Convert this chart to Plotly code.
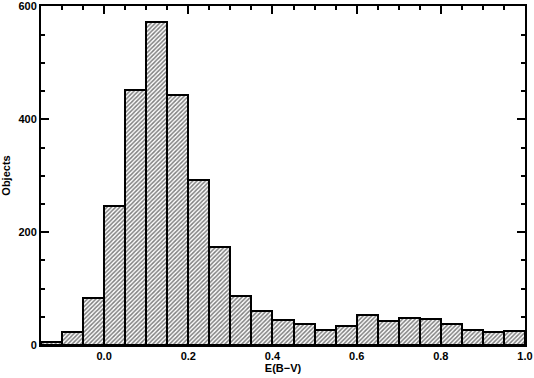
import plotly.graph_objects as go

bin_start = -0.15
bin_width = 0.05
counts = [5, 23, 83, 247, 452, 572, 444, 293, 173, 86, 60, 44, 38, 27, 33,
          54, 43, 47, 46, 38, 27, 23, 24]
x_tick0, x_dtick, x_minor = 0.0, 0.2, 0.05
y_tick0, y_dtick, y_minor = 0, 200, 50
x_range = [-0.15, 1.0]
y_range = [0, 601]

centers = [bin_start + bin_width * (i + 0.5) for i in range(len(counts))]

fig = go.Figure(go.Bar(
    x=centers, y=counts, width=bin_width,
    marker=dict(color="white", line=dict(color="black", width=2),
                pattern=dict(shape="/", fgcolor="black", bgcolor="white",
                             size=3, solidity=0.5, fillmode="overlay")),
    showlegend=False,
))
# invisible trace to activate the mirrored (top/right) axes
fig.add_trace(go.Scatter(x=[x_range[0]], y=[y_range[0]], xaxis="x2", yaxis="y2",
                         mode="markers", marker=dict(opacity=0), showlegend=False,
                         hoverinfo="skip"))

font = dict(family="Liberation Sans, Arial, sans-serif", size=11, color="black", weight="bold")
common = dict(ticks="inside", ticklen=8, tickwidth=2, tickcolor="black",
              showline=True, linecolor="black", linewidth=2,
              showgrid=False, zeroline=False, automargin=False)
xminor = dict(dtick=x_minor, tick0=x_tick0, ticks="inside", ticklen=4, tickwidth=1.5,
              tickcolor="black", showgrid=False)
yminor = dict(dtick=y_minor, tick0=y_tick0, ticks="inside", ticklen=4, tickwidth=1.5,
              tickcolor="black", showgrid=False)
fig.update_layout(
    width=534, height=378,
    margin=dict(l=41, r=9, t=6, b=33),
    plot_bgcolor="white", paper_bgcolor="white",
    bargap=0, font=font,
    xaxis=dict(range=x_range, tickmode="linear", tick0=x_tick0, dtick=x_dtick, tickformat=".1f",
               minor=xminor,
               title=dict(text="E(B\u2212V)", font=font, standoff=3),
               tickfont=font, **common),
    yaxis=dict(range=y_range, tickmode="linear", tick0=y_tick0, dtick=y_dtick,
               minor=yminor,
               title=dict(text="Objects", font=font, standoff=8),
               tickfont=font, **common),
    xaxis2=dict(range=x_range, tickmode="linear", tick0=x_tick0, dtick=x_dtick,
                showticklabels=False, overlaying="x", side="top", anchor="y2",
                minor=xminor, **common),
    yaxis2=dict(range=y_range, tickmode="linear", tick0=y_tick0, dtick=y_dtick,
                showticklabels=False, overlaying="y", side="right", anchor="x2",
                minor=yminor, **common),
)
fig.write_html("out.html", config={"displayModeBar": False},
               post_script="document.body.style.margin='0px';")
